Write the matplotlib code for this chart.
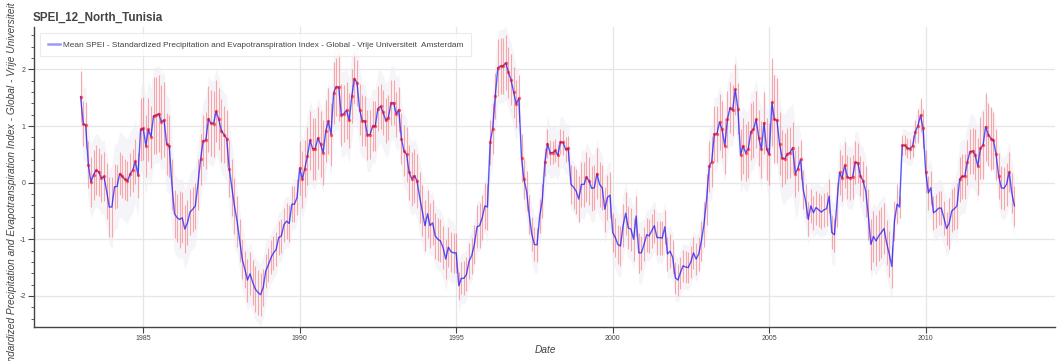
import numpy as np
import pandas as pd
import matplotlib
matplotlib.use("Agg")
import matplotlib.pyplot as plt
from matplotlib.ticker import MultipleLocator
from matplotlib.lines import Line2D

plt.rcParams['font.family'] = ['Liberation Sans', 'DejaVu Sans']

title = "SPEI_12_North_Tunisia"
legend_label = "Mean SPEI - Standardized Precipitation and Evapotranspiration Index - Global - Vrije Universiteit  Amsterdam"
y_label = "SPEI - Standardized Precipitation and Evapotranspiration Index - Global - Vrije Universiteit  Amsterdam"
x_label = "Date"
start_month = "1983-01-01"

# monthly mean SPEI-12 (Jan 1983 .. Nov 2012)
spei_mean = [
    1.52, 1.04, 1.02, 0.32, 0.01, 0.14, 0.22, 0.19, 0.08, 0.11, -0.15, -0.43,
    -0.43, -0.07, -0.07, 0.16, 0.11, 0.06, 0.03, 0.15, 0.22, 0.38, 0.13, 0.94,
    0.96, 0.65, 0.94, 0.81, 1.18, 1.19, 1.22, 1.07, 1.11, 0.68, 0.65, -0.03,
    -0.55, -0.62, -0.65, -0.62, -0.82, -0.71, -0.52, -0.47, -0.41, -0.03, 0.41, 0.74,
    0.75, 1.13, 1.05, 1.04, 1.26, 1.12, 0.92, 0.85, 0.78, 0.25, -0.09, -0.41,
    -0.68, -1.03, -1.35, -1.53, -1.72, -1.61, -1.76, -1.88, -1.94, -1.98, -1.85, -1.56,
    -1.45, -1.32, -1.24, -1.18, -0.97, -0.94, -0.74, -0.68, -0.72, -0.38, -0.38, -0.26,
    0.26, 0.06, 0.25, 0.47, 0.75, 0.60, 0.60, 0.79, 0.68, 0.53, 0.91, 1.09,
    0.85, 1.59, 1.69, 1.69, 1.19, 1.22, 1.28, 1.10, 1.53, 1.84, 1.76, 1.29,
    1.09, 1.09, 0.84, 0.85, 1.00, 1.00, 1.31, 1.35, 1.24, 1.10, 1.15, 1.41,
    1.41, 1.21, 1.29, 0.78, 0.56, 0.50, 0.18, 0.07, 0.12, 0.03, -0.26, -0.50,
    -0.76, -0.55, -0.76, -0.71, -0.94, -1.00, -1.03, -1.15, -1.35, -1.14, -1.22, -1.24,
    -1.24, -1.82, -1.69, -1.69, -1.62, -1.38, -1.29, -1.09, -0.78, -0.76, -0.62, -0.41,
    -0.43, 0.71, 0.95, 1.53, 2.03, 2.06, 2.06, 2.12, 1.95, 1.82, 1.60, 1.39,
    1.49, 0.44, 0.06, -0.15, -0.56, -0.91, -1.09, -1.10, -0.59, -0.32, 0.36, 0.69,
    0.53, 0.53, 0.57, 0.48, 0.72, 0.71, 0.59, 0.61, -0.03, -0.08, -0.15, -0.29,
    -0.03, -0.03, 0.10, 0.03, -0.10, -0.09, 0.16, -0.03, -0.09, -0.47, -0.26, -0.22,
    -0.88, -0.97, -1.09, -1.12, -0.76, -0.54, -0.80, -0.82, -1.00, -0.59, -1.24, -1.24,
    -1.09, -0.92, -0.94, -0.85, -0.76, -0.97, -0.97, -0.98, -0.78, -1.26, -1.21, -1.32,
    -1.68, -1.72, -1.59, -1.47, -1.49, -1.50, -1.40, -1.24, -1.35, -1.26, -1.03, -0.74,
    -0.29, 0.29, 0.37, 0.86, 0.86, 1.07, 0.94, 0.65, 1.12, 1.32, 1.28, 1.65,
    1.31, 0.49, 0.65, 0.53, 0.59, 0.90, 0.94, 1.12, 0.79, 0.59, 1.06, 0.59,
    0.50, 1.42, 1.12, 1.10, 0.69, 0.43, 0.42, 0.51, 0.53, 0.62, 0.16, 0.25,
    0.41, -0.12, -0.32, -0.65, -0.41, -0.53, -0.44, -0.48, -0.52, -0.48, -0.46, -0.24,
    -0.88, -0.92, -0.38, 0.18, 0.08, 0.31, 0.10, 0.08, 0.10, 0.36, 0.35, 0.12,
    0.03, -0.15, -0.56, -1.09, -0.95, -1.03, -0.94, -0.88, -0.81, -1.06, -1.26, -1.48,
    -0.68, -0.38, -0.43, 0.66, 0.66, 0.61, 0.60, 0.65, 0.90, 1.00, 1.19, 0.96,
    0.19, -0.18, -0.09, -0.53, -0.50, -0.45, -0.45, -0.62, -0.81, -0.72, -0.50, -0.46,
    -0.41, 0.06, 0.11, 0.11, 0.36, 0.55, 0.56, 0.49, 0.29, 0.61, 0.66, 0.99,
    0.85, 0.78, 0.75, 0.50, 0.12, -0.09, -0.10, -0.03, 0.19, -0.18, -0.41,
]

# monthly error-bar half widths
spei_err = [
    0.45, 0.40, 0.40, 0.42, 0.44, 0.44, 0.44, 0.42, 0.42, 0.44, 0.50, 0.53,
    0.53, 0.40, 0.38, 0.38, 0.38, 0.36, 0.36, 0.38, 0.38, 0.40, 0.40, 0.56,
    0.56, 0.55, 0.55, 0.55, 0.68, 0.68, 0.68, 0.66, 0.66, 0.55, 0.55, 0.45,
    0.42, 0.42, 0.50, 0.45, 0.42, 0.40, 0.40, 0.40, 0.40, 0.45, 0.45, 0.45,
    0.50, 0.58, 0.58, 0.58, 0.55, 0.55, 0.55, 0.50, 0.50, 0.50, 0.50, 0.50,
    0.45, 0.38, 0.35, 0.33, 0.38, 0.38, 0.40, 0.40, 0.40, 0.38, 0.33, 0.30,
    0.30, 0.30, 0.30, 0.30, 0.30, 0.30, 0.30, 0.32, 0.32, 0.32, 0.32, 0.32,
    0.48, 0.50, 0.50, 0.52, 0.52, 0.55, 0.55, 0.55, 0.58, 0.58, 0.55, 0.58,
    0.55, 0.55, 0.52, 0.60, 0.55, 0.50, 0.50, 0.48, 0.48, 0.45, 0.40, 0.45,
    0.45, 0.44, 0.44, 0.44, 0.44, 0.44, 0.40, 0.40, 0.40, 0.40, 0.40, 0.40,
    0.40, 0.40, 0.40, 0.45, 0.45, 0.48, 0.48, 0.48, 0.48, 0.48, 0.45, 0.45,
    0.45, 0.42, 0.40, 0.40, 0.40, 0.38, 0.38, 0.38, 0.35, 0.35, 0.35, 0.35,
    0.35, 0.25, 0.28, 0.30, 0.30, 0.32, 0.32, 0.35, 0.38, 0.40, 0.40, 0.40,
    0.40, 0.40, 0.45, 0.40, 0.50, 0.50, 0.50, 0.48, 0.45, 0.45, 0.45, 0.42,
    0.42, 0.42, 0.35, 0.35, 0.35, 0.30, 0.30, 0.30, 0.30, 0.30, 0.25, 0.25,
    0.22, 0.20, 0.20, 0.20, 0.22, 0.22, 0.22, 0.22, 0.35, 0.38, 0.40, 0.40,
    0.40, 0.40, 0.45, 0.42, 0.40, 0.40, 0.45, 0.40, 0.40, 0.40, 0.40, 0.40,
    0.35, 0.35, 0.35, 0.35, 0.38, 0.38, 0.38, 0.38, 0.38, 0.35, 0.35, 0.30,
    0.30, 0.30, 0.30, 0.30, 0.30, 0.30, 0.30, 0.30, 0.30, 0.30, 0.30, 0.30,
    0.28, 0.28, 0.28, 0.28, 0.28, 0.28, 0.28, 0.28, 0.28, 0.30, 0.35, 0.40,
    0.45, 0.45, 0.45, 0.50, 0.50, 0.50, 0.50, 0.50, 0.50, 0.45, 0.45, 0.45,
    0.45, 0.45, 0.50, 0.50, 0.50, 0.50, 0.50, 0.50, 0.50, 0.50, 0.55, 0.55,
    0.55, 0.78, 0.78, 0.75, 0.55, 0.50, 0.45, 0.45, 0.45, 0.45, 0.42, 0.40,
    0.35, 0.35, 0.30, 0.30, 0.30, 0.30, 0.30, 0.30, 0.30, 0.30, 0.30, 0.30,
    0.30, 0.30, 0.40, 0.40, 0.40, 0.40, 0.38, 0.38, 0.38, 0.38, 0.35, 0.35,
    0.35, 0.45, 0.45, 0.45, 0.45, 0.45, 0.45, 0.45, 0.45, 0.40, 0.40, 0.38,
    0.35, 0.35, 0.20, 0.18, 0.18, 0.18, 0.18, 0.20, 0.20, 0.30, 0.30, 0.35,
    0.38, 0.30, 0.30, 0.30, 0.30, 0.30, 0.30, 0.30, 0.30, 0.45, 0.38, 0.38,
    0.40, 0.40, 0.40, 0.40, 0.40, 0.40, 0.40, 0.45, 0.50, 0.55, 0.60, 0.60,
    0.55, 0.55, 0.50, 0.45, 0.40, 0.38, 0.38, 0.38, 0.35, 0.35, 0.35,
]

# yearly spread of the shaded envelope (1983 .. 2012)
band_spread_yearly = [0.65, 0.75, 0.85, 0.70, 0.75, 0.55, 0.45, 0.70, 0.75, 0.65,
                      0.65, 0.55, 0.45, 0.65, 0.50, 0.45, 0.60, 0.55, 0.45, 0.40,
                      0.65, 0.70, 0.80, 0.45, 0.55, 0.60, 0.30, 0.50, 0.65, 0.55]

year_ticks = [1985, 1990, 1995, 2000, 2005, 2010]
y_ticks = [-2, -1, 0, 1, 2]

mean = np.array(spei_mean)
err = np.array(spei_err)
n = len(mean)
dates = pd.date_range(start_month, periods=n, freq="MS")
spread = np.repeat(band_spread_yearly, 12)[:n]

W, H = 1057, 361
fig = plt.figure(figsize=(W / 100, H / 100), dpi=100)
ax = fig.add_axes([34 / W, 1 - 327 / H, (1055 - 34) / W, (327 - 27) / H])

ax.fill_between(dates, mean - spread, mean + spread, color="#ededf5", alpha=0.55,
                lw=0, zorder=1)
ax.vlines(dates, mean - err, mean + err, color="#ff0000", alpha=0.32, lw=0.8, zorder=2)
ax.plot(dates, mean, color="#0000ff", alpha=0.65, lw=1.0, zorder=3)
pos = mean > 0
ax.scatter(dates[pos], mean[pos], s=6, color="#ff0000", alpha=0.55, lw=0, zorder=4)

def frac_year(y):
    return pd.Timestamp(int(y), 1, 1) + pd.Timedelta(days=(y - int(y)) * 365.25)

ax.set_xlim(frac_year(1981.51), frac_year(2014.13))
ax.set_ylim(-2.55, 2.75)

ax.set_xticks([pd.Timestamp(y, 1, 1) for y in year_ticks])
ax.set_xticklabels([str(y) for y in year_ticks])
ax.set_yticks(y_ticks)
ax.set_yticklabels([str(v) for v in y_ticks])
ax.yaxis.set_minor_locator(MultipleLocator(0.2))

ax.grid(True, which="major", color="#e6e6e6", lw=0.9, zorder=0)
ax.set_axisbelow(True)
for s in ["top", "right"]:
    ax.spines[s].set_visible(False)
for s in ["left", "bottom"]:
    ax.spines[s].set_color("#444444")
    ax.spines[s].set_linewidth(1.0)
ax.tick_params(axis="both", which="major", labelsize=5.0, colors="#444444",
               length=4, width=0.8, pad=2)
ax.tick_params(axis="y", which="minor", length=2, width=0.6, colors="#444444")

fig.text(33 / W, 1 - 21 / H, title, fontsize=8.4, fontweight="bold", color="#444444",
         va="baseline", ha="left")
fig.text(545 / W, 1 - 350 / H, x_label, fontsize=7.3, style="italic", color="#444444",
         ha="center", va="center")
fig.text(12 / W, 1 - 177 / H, y_label, fontsize=7.3, style="italic", color="#444444",
         rotation=90, ha="center", va="center")

handle = Line2D([0], [0], color="#9999ff", lw=1.8)
leg = ax.legend([handle], [legend_label], loc="upper left",
                bbox_to_anchor=(6 / 1021, 1 - 6 / 300), borderaxespad=0,
                fontsize=5.95, frameon=True, fancybox=False, handlelength=1.5,
                handletextpad=0.35, borderpad=0.95, labelcolor="#444444")
leg.get_frame().set_edgecolor("#e6e6e6")
leg.get_frame().set_linewidth(0.8)

fig.savefig("out.png", dpi=100)
